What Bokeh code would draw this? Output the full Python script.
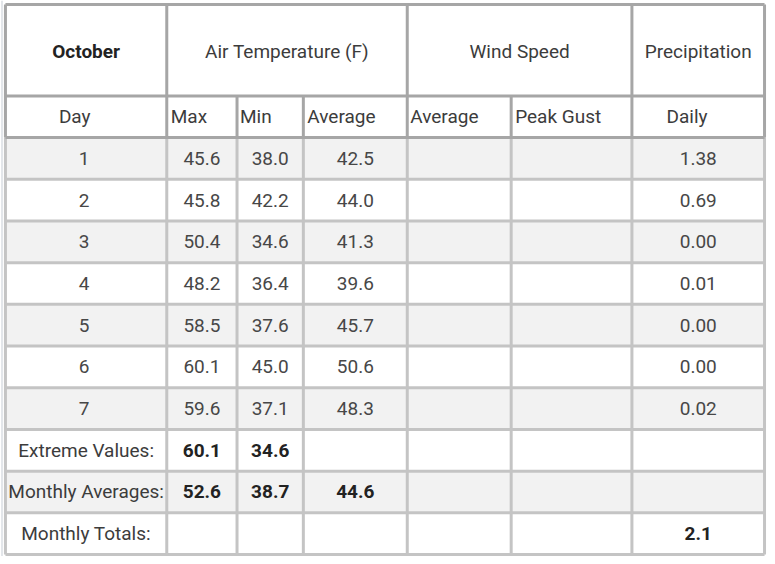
from bokeh.plotting import figure
from bokeh.models import Range1d, ColumnDataSource
from bokeh.core.properties import value
from bokeh.embed import file_html
from bokeh.resources import INLINE

# ---- data ----
month = "October"
group_headers = ["Air Temperature (F)", "Wind Speed", "Precipitation"]
sub_headers = ["Day", "Max", "Min", "Average", "Average", "Peak Gust", "Daily"]
days = [1, 2, 3, 4, 5, 6, 7]
max_temp = [45.6, 45.8, 50.4, 48.2, 58.5, 60.1, 59.6]
min_temp = [38.0, 42.2, 34.6, 36.4, 37.6, 45.0, 37.1]
avg_temp = [42.5, 44.0, 41.3, 39.6, 45.7, 50.6, 48.3]
precip_daily = [1.38, 0.69, 0.00, 0.01, 0.00, 0.00, 0.02]
summary_labels = ["Extreme Values:", "Monthly Averages:", "Monthly Totals:"]
extreme_values = [60.1, 34.6]          # Max, Min
monthly_averages = [52.6, 38.7, 44.6]  # Max, Min, Average
monthly_total_precip = 2.1

# ---- layout (reference pixel coordinates) ----
FONT = value("Roboto")
col_edges = [5, 168, 239, 306, 411, 516, 638, 772]
col_centers = [(col_edges[i] + col_edges[i + 1]) / 2 for i in range(7)]
top, h1, h2 = 4, 97, 139
n_rows = len(days) + len(summary_labels)
bottom = 562
rh = (bottom - h2) / n_rows
row_top = [h2 + k * rh for k in range(n_rows)]
row_mid = [t + rh / 2 for t in row_top]

p = figure(width=767, height=556, x_range=Range1d(0, 775), y_range=Range1d(564, 0),
           toolbar_location=None, output_backend="svg", min_border=0,
           x_axis_type=None, y_axis_type=None, outline_line_color=None,
           background_fill_color="white", border_fill_color="white")
p.grid.visible = False

# zebra stripes
zr = [k for k in range(n_rows) if k % 2 == 0]
p.quad(left=[col_edges[0]] * len(zr), right=[col_edges[-1]] * len(zr),
       top=[row_top[k] for k in zr], bottom=[row_top[k] + rh for k in zr],
       fill_color="#f2f2f2", line_color=None)

# faint page-edge line at far left
p.segment(x0=[1.5], x1=[1.5], y0=[0], y1=[564], line_color="#e3e6ea", line_width=2)

# data-area grid lines (light)
light = "#c4c4c4"
hx0, hx1, hy0, hy1 = [], [], [], []
for k in range(1, n_rows + 1):
    y = h2 + k * rh
    hx0.append(col_edges[0]); hx1.append(col_edges[-1]); hy0.append(y); hy1.append(y)
p.segment(x0=hx0, x1=hx1, y0=hy0, y1=hy1, line_color=light, line_width=3)
vx = col_edges
p.segment(x0=vx, x1=vx, y0=[h2] * len(vx), y1=[bottom] * len(vx), line_color=light, line_width=3)

# header lines (darker)
dark = "#a6a6a6"
p.segment(x0=[col_edges[0]] * 3, x1=[col_edges[-1]] * 3, y0=[top, h1, h2], y1=[top, h1, h2],
          line_color=dark, line_width=3)
hv1 = [col_edges[i] for i in (0, 1, 4, 6, 7)]
p.segment(x0=hv1, x1=hv1, y0=[top] * len(hv1), y1=[h1] * len(hv1), line_color=dark, line_width=3)
p.segment(x0=col_edges, x1=col_edges, y0=[h1] * len(col_edges), y1=[h2] * len(col_edges),
          line_color=dark, line_width=3)

def txt(xs, ys, texts, align="center", bold=False, color="#3c3c3c", size="19px"):
    src = ColumnDataSource(dict(x=xs, y=ys, t=texts))
    p.text(x="x", y="y", text="t", source=src, text_align=align, text_baseline="middle",
           text_font=FONT, text_font_size=size, text_color=color,
           text_font_style="bold" if bold else "normal")

hmid1 = (top + h1) / 2 + 1
hmid2 = (h1 + h2) / 2
# group header row
txt([col_centers[0]], [hmid1], [month], bold=True, color="#222222")
txt([(col_edges[1] + col_edges[4]) / 2, (col_edges[4] + col_edges[6]) / 2, col_centers[6]],
    [hmid1] * 3, group_headers)
# sub header row
sub_x = [59, 172, 242, 310, 414, 520, 673]
txt(sub_x, [hmid2] * len(sub_headers), sub_headers, align="left")

# daily rows
nd = len(days)
vc = "#474747"
txt([col_centers[0] - 2] * nd, row_mid[:nd], [str(d) for d in days], color=vc)
txt([col_centers[1]] * nd, row_mid[:nd], [f"{v:.1f}" for v in max_temp], color=vc)
txt([col_centers[2]] * nd, row_mid[:nd], [f"{v:.1f}" for v in min_temp], color=vc)
txt([col_centers[3]] * nd, row_mid[:nd], [f"{v:.1f}" for v in avg_temp], color=vc)
txt([col_centers[6]] * nd, row_mid[:nd], [f"{v:.2f}" for v in precip_daily], color=vc)

# summary rows
txt([col_centers[0]] * 3, row_mid[nd:], summary_labels)
txt([col_centers[1], col_centers[2]], [row_mid[nd]] * 2, [f"{v:.1f}" for v in extreme_values],
    bold=True, color="#222222")
txt(col_centers[1:4], [row_mid[nd + 1]] * 3, [f"{v:.1f}" for v in monthly_averages],
    bold=True, color="#222222")
txt([col_centers[6]], [row_mid[nd + 2]], [f"{monthly_total_precip:.1f}"], bold=True, color="#222222")

open("out.html", "w").write(file_html(p, INLINE))
